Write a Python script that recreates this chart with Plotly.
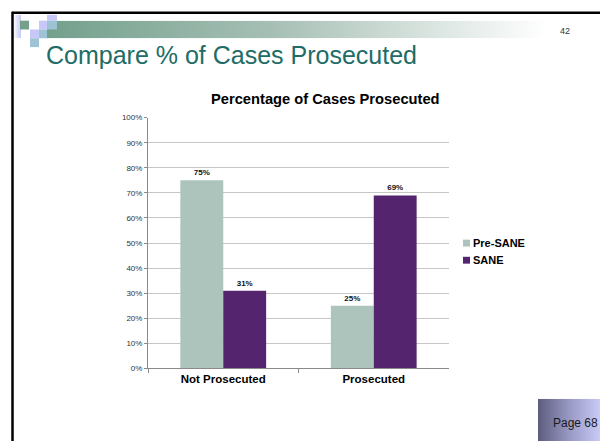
import base64
import plotly.graph_objects as go

categories = ["Not Prosecuted", "Prosecuted"]
series_names = ["Pre-SANE", "SANE"]
pre_sane = [0.75, 0.25]
sane = [0.31, 0.69]
y_ticks = [0, 0.1, 0.2, 0.3, 0.4, 0.5, 0.6, 0.7, 0.8, 0.9, 1.0]
y_tick_labels = ["0%", "10%", "20%", "30%", "40%", "50%", "60%", "70%", "80%", "90%", "100%"]
colors = ["#adc4bd", "#54246f"]

W, H = 600, 446
FONT = "Liberation Sans, Arial, sans-serif"

def px(x):
    return x / W

def py(y):
    return 1 - y / H

def svg_uri(svg):
    return "data:image/svg+xml;base64," + base64.b64encode(svg.encode()).decode()

fig = go.Figure()
for name, vals, col in zip(series_names, [pre_sane, sane], colors):
    fig.add_trace(go.Bar(
        name=name, x=categories, y=vals, showlegend=False,
        marker=dict(color=col, line=dict(width=0)),
        text=[f"{v:.0%}" for v in vals], textposition="outside",
        texttemplate="<b>%{text}</b>",
        textfont=dict(family=FONT, size=8, color="#111111"), cliponaxis=False,
    ))

grad_bar = (
    '<svg xmlns="http://www.w3.org/2000/svg" width="500" height="18">'
    '<defs><linearGradient id="g" x1="0" y1="0" x2="1" y2="0">'
    '<stop offset="0" stop-color="#73a08d"/>'
    '<stop offset="0.45" stop-color="#a6bfb4"/>'
    '<stop offset="1" stop-color="#ffffff"/>'
    '</linearGradient></defs><rect width="500" height="18" fill="url(#g)"/></svg>'
)
lav_grad = (
    '<svg xmlns="http://www.w3.org/2000/svg" width="8" height="24">'
    '<defs><linearGradient id="g" x1="0" y1="0" x2="1" y2="0">'
    '<stop offset="0" stop-color="#ffffff"/>'
    '<stop offset="1" stop-color="#c8c8f8"/>'
    '</linearGradient></defs><rect width="8" height="24" fill="url(#g)"/></svg>'
)
page_grad = (
    '<svg xmlns="http://www.w3.org/2000/svg" width="62" height="44">'
    '<defs><linearGradient id="g" x1="0" y1="0" x2="1" y2="0">'
    '<stop offset="0" stop-color="#5c5c7e"/>'
    '<stop offset="0.5" stop-color="#9898c4"/>'
    '<stop offset="1" stop-color="#cacaf8"/>'
    '</linearGradient></defs><rect width="62" height="44" fill="url(#g)"/></svg>'
)

images = [
    dict(source=svg_uri(grad_bar), xref="paper", yref="paper", x=px(47), y=py(17),
         sizex=500 / W, sizey=18 / H, xanchor="left", yanchor="top",
         sizing="stretch", layer="below"),
    dict(source=svg_uri(lav_grad), xref="paper", yref="paper", x=px(13), y=py(11),
         sizex=8 / W, sizey=24 / H, xanchor="left", yanchor="top",
         sizing="stretch", layer="below"),
    dict(source=svg_uri(page_grad), xref="paper", yref="paper", x=px(538), y=py(403),
         sizex=62 / W, sizey=43 / H, xanchor="left", yanchor="top",
         sizing="stretch", layer="below"),
]

def rect(x0, y0, x1, y1, color):
    return dict(type="rect", xref="paper", yref="paper", x0=px(x0), x1=px(x1),
                y0=py(y1), y1=py(y0), fillcolor=color, line=dict(width=0), layer="below")

shapes = [
    rect(20, 17, 29, 26, "#75a08e"),
    rect(39, 17, 47, 26, "#c8c8f8"),
    rect(47, 11, 57, 17, "#c8c8f8"),
    rect(47, 17, 57, 26, "#9dc3d5"),
    rect(30, 26, 39, 35, "#c8c8f8"),
    rect(39, 26, 47, 35, "#9dc3d5"),
    rect(30, 35, 39, 44, "#9dc3d5"),
    dict(type="line", xref="paper", yref="paper", x0=px(12), x1=1, y0=py(9), y1=py(9),
         line=dict(color="#000000", width=2.5)),
    dict(type="line", xref="paper", yref="paper", x0=px(12.5), x1=px(12.5), y0=py(8), y1=0,
         line=dict(color="#000000", width=2.5)),
]

# legend keys: small colored square + bold series name
legend_rows_y = [244, 261.5]
for name, col, yy in zip(series_names, colors, legend_rows_y):
    shapes.append(rect(463, yy - 3.5, 470, yy + 3.5, col))

annotations = [
    dict(text="Compare % of Cases Prosecuted", xref="paper", yref="paper",
         x=px(44), y=py(52), xanchor="left", yanchor="middle", showarrow=False,
         font=dict(family=FONT, size=25, color="#216c66")),
    dict(text="42", xref="paper", yref="paper", x=px(572), y=py(28),
         xanchor="right", yanchor="middle", showarrow=False,
         font=dict(family=FONT, size=9, color="#333333")),
    dict(text="<b>Percentage of Cases Prosecuted</b>", xref="paper", yref="paper",
         x=px(325), y=py(97), xanchor="center", yanchor="middle", showarrow=False,
         font=dict(family=FONT, size=14.7, color="#000000")),
    dict(text="Page 68", xref="paper", yref="paper", x=px(600), y=py(428),
         xanchor="right", yanchor="middle", showarrow=False,
         font=dict(family=FONT, size=12, color="#1a1a1a")),
]
for name, yy in zip(series_names, legend_rows_y):
    annotations.append(dict(
        text=f"<b>{name}</b>", xref="paper", yref="paper", x=px(471), y=py(yy),
        xanchor="left", yanchor="middle", showarrow=False,
        font=dict(family=FONT, size=11, color="#000000")))

fig.update_layout(
    width=W, height=H,
    margin=dict(l=0, r=0, t=0, b=0),
    paper_bgcolor="#ffffff", plot_bgcolor="#ffffff",
    barmode="group", bargap=0.43, bargroupgap=0,
    showlegend=False,
    xaxis=dict(domain=[px(148), px(449)], showgrid=False, showline=True,
               linecolor="#8a8a8a", linewidth=1, ticks="outside", tickson="boundaries",
               ticklen=4, tickcolor="#8a8a8a", tickprefix="<b>", ticksuffix="</b>",
               tickfont=dict(family=FONT, size=11.5, color="#000000")),
    yaxis=dict(domain=[py(372), py(116)], range=[0, 1], tickvals=y_ticks,
               ticktext=y_tick_labels, showgrid=True, gridcolor="#c6c6c6", gridwidth=1,
               showline=True, linecolor="#8a8a8a", linewidth=1, ticks="outside",
               ticklen=3, tickcolor="#8a8a8a", zeroline=False,
               tickfont=dict(family=FONT, size=8, color="#333333")),
    images=images, shapes=shapes, annotations=annotations,
    font=dict(family=FONT),
)

fig.write_html("out.html", config={"displayModeBar": False},
               post_script="document.body.style.margin='0';document.body.style.overflow='hidden';")
